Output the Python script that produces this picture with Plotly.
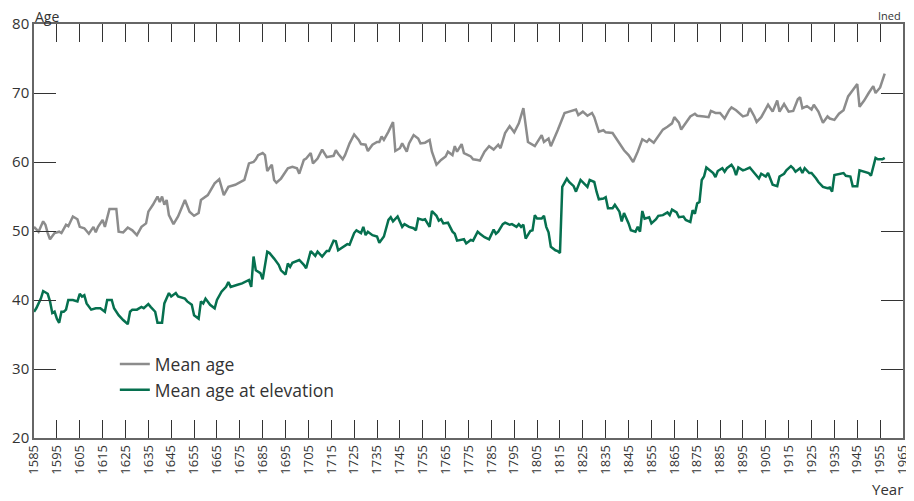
import plotly.graph_objects as go

# Mean age (grey)
years_mean = [1585, 1587, 1589, 1590, 1591, 1592, 1594, 1596, 1597, 1599, 1600, 1602, 1604, 1605, 1607, 1609,
              1611, 1612, 1613, 1615, 1616, 1618, 1621, 1622, 1624, 1626, 1628, 1630, 1632, 1634, 1635, 1637,
              1639, 1640, 1641, 1642, 1643, 1644, 1646, 1648, 1651, 1653, 1655, 1657, 1658, 1661, 1664, 1666,
              1668, 1670, 1673, 1675, 1677, 1679, 1681, 1682, 1683, 1685, 1686, 1687, 1688, 1689, 1690, 1691,
              1693, 1696, 1698, 1700, 1701, 1703, 1704, 1706, 1707, 1709, 1711, 1713, 1716, 1717, 1718, 1720,
              1721, 1723, 1725, 1727, 1728, 1730, 1731, 1733, 1735, 1736, 1737, 1738, 1740, 1742, 1743, 1745,
              1746, 1748, 1749, 1751, 1753, 1754, 1756, 1758, 1759, 1761, 1763, 1765, 1766, 1768, 1769, 1770,
              1772, 1773, 1776, 1777, 1779, 1780, 1782, 1784, 1786, 1788, 1789, 1791, 1793, 1795, 1797, 1799,
              1801, 1804, 1807, 1808, 1810, 1811, 1814, 1817, 1819, 1822, 1823, 1825, 1827, 1829, 1830, 1831,
              1832, 1834, 1835, 1838, 1840, 1842, 1843, 1845, 1847, 1849, 1851, 1853, 1854, 1856, 1858, 1860,
              1862, 1864, 1865, 1867, 1868, 1870, 1872, 1874, 1875, 1878, 1880, 1881, 1883, 1885, 1887, 1889,
              1890, 1892, 1895, 1897, 1898, 1900, 1901, 1903, 1905, 1906, 1908, 1910, 1911, 1913, 1915, 1917,
              1919, 1920, 1921, 1923, 1925, 1926, 1928, 1930, 1932, 1933, 1935, 1937, 1939, 1941, 1943, 1945,
              1946, 1948, 1950, 1952, 1953, 1955, 1957]
mean_age = [50.6, 49.9, 51.4, 50.9, 49.7, 48.8, 49.7, 49.9, 49.7, 50.9, 50.7, 52.1, 51.7, 50.6, 50.4, 49.6,
            50.6, 49.8, 50.6, 51.6, 50.6, 53.2, 53.2, 49.9, 49.8, 50.5, 50.1, 49.4, 50.6, 51.1, 52.8, 53.8,
            55.0, 54.2, 55.0, 53.8, 54.5, 52.3, 51.0, 52.1, 54.5, 52.8, 52.2, 52.6, 54.5, 55.2, 56.9, 57.5,
            55.2, 56.4, 56.7, 57.1, 57.4, 59.8, 60.0, 60.4, 61.0, 61.3, 61.0, 58.7, 59.1, 59.6, 57.4, 57.0,
            57.6, 59.1, 59.3, 59.1, 58.3, 60.3, 60.5, 61.3, 59.8, 60.5, 61.8, 60.7, 60.9, 61.7, 61.2, 60.4,
            61.0, 62.7, 64.0, 63.2, 62.6, 62.5, 61.6, 62.5, 62.9, 62.9, 63.7, 63.2, 64.4, 65.8, 61.6, 62.0,
            62.7, 61.5, 62.7, 63.9, 63.4, 62.7, 62.8, 63.2, 61.5, 59.6, 60.3, 60.8, 61.5, 61.0, 62.3, 61.5,
            62.6, 61.3, 60.8, 60.4, 60.3, 60.2, 61.5, 62.3, 61.8, 62.5, 62.0, 64.2, 65.2, 64.3, 65.6, 67.8,
            62.9, 62.3, 63.9, 62.9, 63.4, 62.3, 64.6, 67.1, 67.3, 67.6, 66.8, 67.3, 66.7, 67.1, 66.5, 65.6,
            64.4, 64.6, 64.3, 64.2, 63.2, 62.2, 61.7, 61.0, 60.0, 61.5, 63.3, 62.9, 63.3, 62.8, 63.7, 64.7,
            65.1, 65.6, 66.5, 65.7, 64.7, 65.6, 66.6, 67.0, 66.7, 66.6, 66.5, 67.4, 67.1, 67.1, 66.3, 67.5,
            67.9, 67.5, 66.6, 66.8, 67.8, 66.6, 65.8, 66.5, 67.6, 68.3, 67.3, 68.9, 67.3, 68.4, 67.3, 67.4,
            69.1, 69.4, 67.8, 68.1, 67.6, 68.3, 67.3, 65.7, 66.6, 66.3, 66.1, 67.0, 67.5, 69.5, 70.4, 71.3,
            68.0, 68.9, 70.0, 71.0, 70.0, 70.8, 72.8]

# Mean age at elevation (green)
years_elev = [1585, 1586, 1588, 1589, 1591, 1592, 1593, 1594, 1595, 1596, 1597, 1598, 1599, 1600, 1602, 1604,
              1605, 1606, 1607, 1608, 1610, 1612, 1614, 1616, 1617, 1619, 1620, 1622, 1624, 1626, 1627, 1628,
              1630, 1632, 1633, 1635, 1636, 1638, 1639, 1641, 1642, 1644, 1645, 1647, 1648, 1651, 1652, 1654,
              1655, 1657, 1658, 1659, 1660, 1662, 1664, 1665, 1667, 1669, 1670, 1671, 1674, 1676, 1679, 1680,
              1681, 1682, 1684, 1685, 1687, 1688, 1690, 1692, 1693, 1695, 1696, 1697, 1698, 1700, 1701, 1703,
              1704, 1706, 1708, 1709, 1711, 1713, 1714, 1716, 1717, 1718, 1720, 1722, 1723, 1725, 1726, 1728,
              1729, 1730, 1731, 1733, 1735, 1736, 1738, 1739, 1740, 1741, 1742, 1744, 1745, 1746, 1747, 1749,
              1751, 1752, 1753, 1755, 1756, 1758, 1759, 1761, 1762, 1763, 1764, 1766, 1768, 1769, 1770, 1773,
              1774, 1776, 1777, 1779, 1780, 1782, 1784, 1786, 1787, 1788, 1790, 1791, 1793, 1794, 1796, 1797,
              1798, 1799, 1800, 1802, 1803, 1804, 1805, 1807, 1808, 1809, 1810, 1811, 1813, 1814, 1815, 1816,
              1818, 1819, 1821, 1822, 1824, 1827, 1828, 1830, 1831, 1832, 1834, 1835, 1836, 1838, 1839, 1841,
              1842, 1843, 1845, 1846, 1848, 1849, 1850, 1851, 1852, 1854, 1855, 1857, 1858, 1860, 1862, 1863,
              1864, 1866, 1867, 1869, 1870, 1872, 1873, 1874, 1875, 1876, 1877, 1878, 1879, 1881, 1882, 1883,
              1884, 1886, 1887, 1888, 1890, 1891, 1892, 1893, 1895, 1896, 1898, 1899, 1901, 1902, 1903, 1905,
              1906, 1907, 1908, 1910, 1911, 1913, 1914, 1916, 1917, 1918, 1920, 1921, 1922, 1924, 1925, 1927,
              1928, 1930, 1932, 1933, 1934, 1935, 1937, 1939, 1940, 1942, 1943, 1945, 1946, 1948, 1950, 1951,
              1953, 1954, 1956, 1957]
mean_age_elevation = [38.3, 38.8, 40.2, 41.3, 40.9, 39.8, 38.1, 38.3, 37.3, 36.7, 38.3, 38.3, 38.6, 40.0, 40.0, 39.8,
                      40.9, 40.5, 40.7, 39.5, 38.6, 38.8, 38.8, 38.3, 40.0, 40.0, 38.8, 37.8, 37.1, 36.5, 38.3, 38.6,
                      38.6, 39.0, 38.8, 39.4, 39.0, 38.3, 36.7, 36.7, 39.5, 41.0, 40.5, 41.0, 40.5, 40.2, 39.8, 39.3,
                      37.8, 37.3, 39.8, 39.5, 40.2, 39.3, 38.8, 40.0, 41.2, 41.9, 42.6, 41.9, 42.2, 42.4, 42.9, 41.9,
                      46.3, 44.3, 43.9, 43.0, 47.0, 46.8, 46.0, 45.1, 44.3, 43.7, 45.3, 44.8, 45.4, 45.6, 45.8, 45.1,
                      44.6, 47.1, 46.4, 47.0, 46.3, 47.1, 47.1, 48.6, 48.5, 47.2, 47.7, 48.1, 48.0, 49.7, 50.1, 49.7,
                      50.6, 49.4, 49.9, 49.4, 49.2, 48.3, 49.2, 50.6, 51.6, 52.0, 51.4, 52.1, 51.2, 50.6, 51.0, 50.6,
                      50.4, 50.1, 51.8, 51.6, 51.7, 50.6, 52.9, 52.2, 51.5, 51.7, 51.1, 51.2, 49.9, 49.6, 48.6, 48.8,
                      48.2, 48.7, 48.6, 49.9, 49.6, 49.1, 48.8, 50.2, 49.6, 49.9, 51.0, 51.2, 50.9, 51.0, 50.6, 51.0,
                      50.6, 50.9, 48.9, 50.0, 50.1, 52.3, 51.8, 51.8, 52.2, 50.6, 49.8, 47.7, 47.2, 47.1, 46.8, 56.4,
                      57.6, 57.1, 56.5, 55.7, 57.4, 56.4, 57.4, 57.1, 55.7, 54.6, 54.7, 54.9, 53.3, 53.3, 53.8, 52.8,
                      51.4, 52.6, 51.1, 50.1, 49.9, 50.6, 49.9, 52.9, 51.8, 52.0, 51.1, 51.7, 52.2, 52.3, 52.7, 52.3,
                      53.1, 52.7, 52.0, 52.1, 51.6, 51.3, 53.0, 52.5, 54.0, 54.2, 57.4, 57.9, 59.2, 58.7, 58.4, 57.8,
                      58.7, 59.1, 58.6, 59.1, 59.6, 59.1, 58.1, 59.2, 58.8, 58.9, 59.2, 58.8, 58.1, 57.6, 58.3, 57.9,
                      58.4, 57.5, 56.7, 56.5, 57.9, 58.3, 58.8, 59.4, 59.1, 58.6, 59.1, 58.4, 59.1, 58.4, 58.4, 57.6,
                      57.1, 56.4, 56.2, 56.3, 55.7, 58.1, 58.3, 58.4, 58.0, 57.9, 56.5, 56.5, 58.8, 58.6, 58.4, 58.0,
                      60.6, 60.4, 60.4, 60.6]

x_ticks = list(range(1585, 1966, 10))
y_ticks = [20, 30, 40, 50, 60, 70, 80]

GREY = "#8c8c8c"
GREEN = "#06704f"
TXT = "#333333"
FONT = "Open Sans"

fig = go.Figure()
fig.add_trace(go.Scatter(x=years_mean, y=mean_age, mode="lines", name="Mean age",
                         line=dict(color=GREY, width=2.5)))
fig.add_trace(go.Scatter(x=years_elev, y=mean_age_elevation, mode="lines", name="Mean age at elevation",
                         line=dict(color=GREEN, width=2.5)))

# the page body adds an 8px offset, so the figure is a bit smaller than the window
fig.update_layout(
    width=906, height=493,
    margin=dict(l=26, r=11, t=16, b=63, autoexpand=False),
    paper_bgcolor="white", plot_bgcolor="white",
    font=dict(family=FONT, color=TXT),
    showlegend=True,
    legend=dict(x=0.093, y=0.222, xanchor="left", yanchor="top",
                font=dict(size=17.5, color=TXT), bgcolor="rgba(0,0,0,0)",
                tracegroupgap=0),
    xaxis=dict(range=[1585, 1965], tickmode="array", tickvals=x_ticks,
               ticktext=[str(t) for t in x_ticks], tickangle=-90, automargin=False,
               ticks="inside", ticklen=18, tickwidth=1.3, tickcolor="#333",
               showline=True, linecolor="#666", linewidth=1.5, mirror="ticks",
               showgrid=False, zeroline=False, tickfont=dict(size=13, color=TXT)),
    yaxis=dict(range=[20, 80], tickmode="array", tickvals=y_ticks, automargin=False,
               ticks="inside", ticklen=22, tickwidth=1.3, tickcolor="#333",
               showline=True, linecolor="#666", linewidth=1.5, mirror="ticks",
               showgrid=False, zeroline=False, tickfont=dict(size=15, color=TXT)),
    annotations=[
        dict(text="Age", xref="paper", yref="paper", x=0, y=1, xanchor="left", yanchor="bottom",
             showarrow=False, font=dict(size=14, color=TXT), yshift=-3, borderpad=0),
        dict(text="Ined", xref="paper", yref="paper", x=1, y=1, xanchor="right", yanchor="bottom",
             showarrow=False, font=dict(size=11, color=TXT), yshift=-1),
        dict(text="Year", xref="paper", yref="paper", x=1.002, y=-0.152, xanchor="right", yanchor="bottom",
             showarrow=False, font=dict(size=15, color=TXT)),
    ],
)

fig.write_html("out.html")
